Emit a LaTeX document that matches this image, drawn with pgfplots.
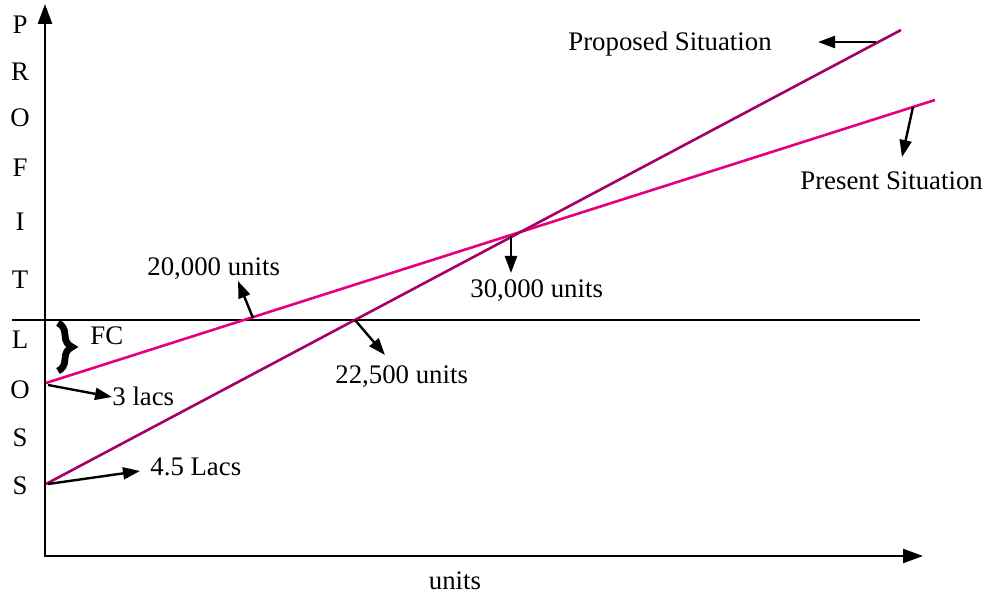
\documentclass[border=0pt]{standalone}
\usepackage{pgfplots}
\pgfplotsset{compat=1.18}
\usepackage{fontspec}
\setmainfont{Liberation Serif}
\usetikzlibrary{arrows.meta,decorations.pathreplacing}
\definecolor{present}{RGB}{230,0,128}
\definecolor{proposed}{RGB}{165,0,105}
\begin{document}
\fontsize{13.4}{16}\selectfont
\begin{tikzpicture}
\begin{axis}[
  scale only axis, width=493.5pt, height=297.5pt,
  xmin=0, xmax=987, ymin=0, ymax=595,
  axis lines=none, clip=false,
]
\path (axis cs:0,0) (axis cs:987,595);
% axes
\draw[line width=1.3pt, -{Triangle[length=10pt,width=7pt]}] (axis cs:45,38) -- (axis cs:45,591);
\draw[line width=1.3pt, -{Triangle[length=10pt,width=7pt]}] (axis cs:45,39) -- (axis cs:923,39);
% break-even line
\draw[line width=1.2pt] (axis cs:12,275) -- (axis cs:920,275);
% cost-volume-profit lines
\addplot[present, line width=1.3pt] coordinates {(46,212) (935,495)};
\addplot[proposed, line width=1.3pt] coordinates {(46,111) (901,565)};
% letters
\node at (axis cs:20,570) {P};
\node at (axis cs:20,523) {R};
\node at (axis cs:20,477) {O};
\node at (axis cs:20,427) {F};
\node at (axis cs:20,373) {I};
\node at (axis cs:20,315) {T};
\node at (axis cs:20,255) {L};
\node at (axis cs:20,205) {O};
\node at (axis cs:20,157) {S};
\node at (axis cs:20,109) {S};
% annotations
\tikzset{ann/.style={line width=1.2pt, -{Triangle[length=8.5pt,width=6pt]}},
  lab/.style={anchor=west, inner sep=0pt}}
\node[lab] at (axis cs:568,551) {Proposed Situation};
\draw[ann] (axis cs:876,553) -- (axis cs:818,553);
\node[lab] at (axis cs:800,414) {Present Situation};
\draw[ann] (axis cs:913,488) -- (axis cs:902,438);
\node[lab] at (axis cs:147,326) {20,000 units};
\draw[ann] (axis cs:253,277) -- (axis cs:238,314);
\node[lab] at (axis cs:470,304) {30,000 units};
\draw[ann] (axis cs:511,359) -- (axis cs:511,322);
\node[lab] at (axis cs:335,218) {22,500 units};
\draw[ann] (axis cs:355,275) -- (axis cs:385,240);
\node[lab] at (axis cs:90,259) {FC};
\draw[line width=3.4pt, decorate, decoration={brace, amplitude=7pt}] (axis cs:58,272) -- (axis cs:58,224);
\node[lab] at (axis cs:112,199) {3 lacs};
\draw[ann] (axis cs:48,210) -- (axis cs:112,198);
\node[lab] at (axis cs:150,128) {4.5 Lacs};
\draw[ann] (axis cs:48,111) -- (axis cs:140,124);
\node at (axis cs:455,14) {units};
\end{axis}
\end{tikzpicture}
\end{document}
